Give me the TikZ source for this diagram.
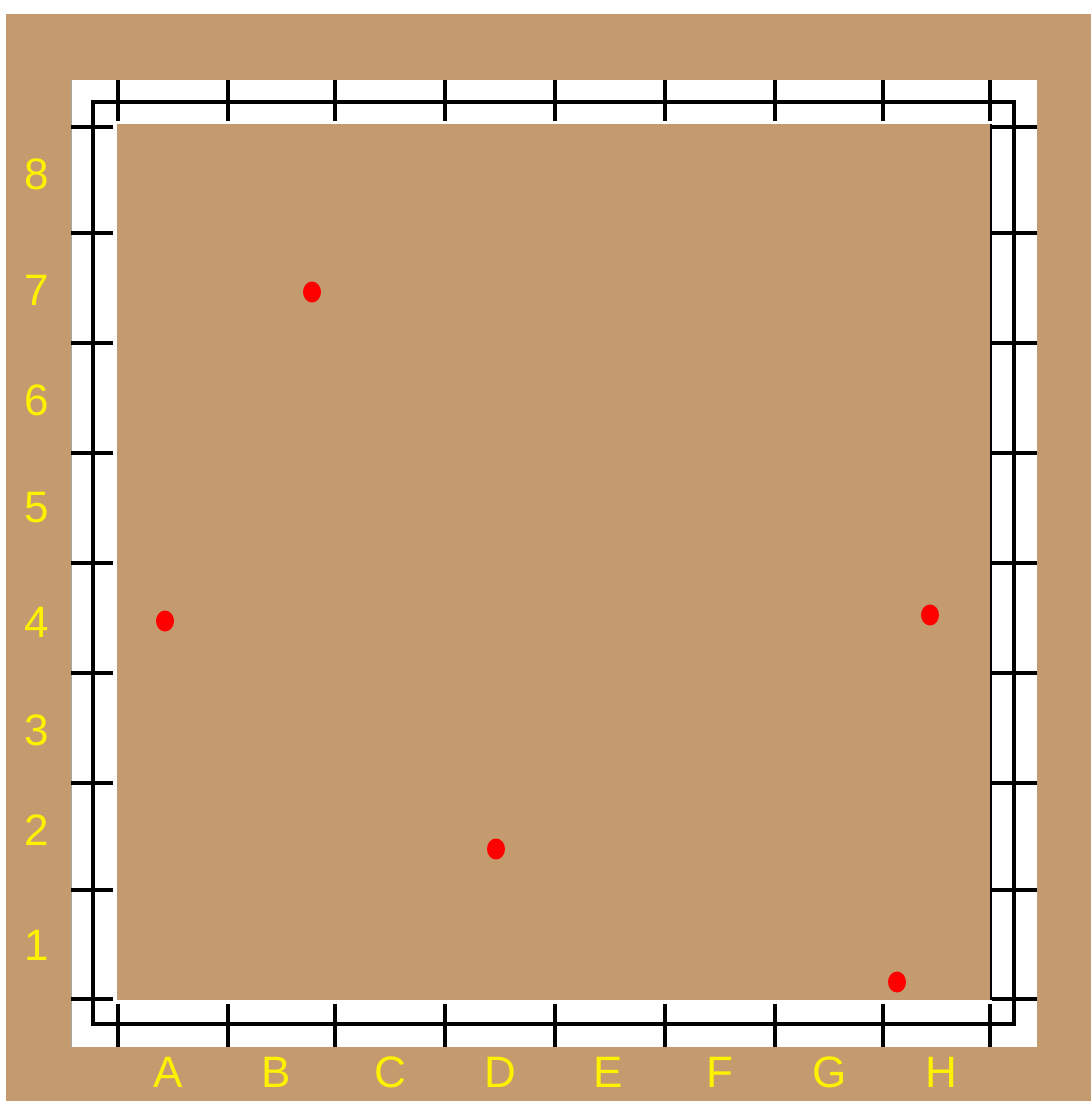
\documentclass[tikz,border=0pt]{standalone}
\usepackage{fontspec}
\setmainfont{Liberation Sans}
\usepackage{xcolor}
\usepackage{tikz}
\usetikzlibrary{positioning, shapes.geometric}

\definecolor{boardtan}{RGB}{196,155,110}

\tikzset{
  edgetick/.style={line width=4pt, black},
  lbl/.style={text=yellow, font=\fontsize{44}{44}\selectfont, inner sep=0pt},
  piece/.style={ellipse, fill=red, draw=none, minimum width=18pt, minimum height=21pt, inner sep=0pt}
}

\begin{document}
\begin{tikzpicture}[x=1pt, y=-1pt]
        \useasboundingbox (0,0) rectangle (1091,1101);
        % Page and board background
        \fill[white] (0,0) rectangle (1091,1101);
        \fill[boardtan] (6,14) rectangle (1091,1101);
        % White frame with tan playing area
        \fill[white] (71,80) rectangle (1037,1047);
        \fill[boardtan] (117,124) rectangle (990,1000);
        \draw[gray!70, line width=0.8pt] (71,80) -- (71,1047);
        \draw[line width=1.2pt] (991,124) -- (991,1000);
        % Border line round the field
        \draw[line width=4pt] (93,101.5) rectangle (1014,1024);
        % Ticks on the top and bottom strips
        \foreach \x in {118,228,335,445,555,665,775,883,990} {
          \draw[edgetick] (\x,80) -- (\x,121);
          \draw[edgetick] (\x,1004) -- (\x,1047);
        }
        % Ticks on the left and right strips
        \foreach \y in {127,233,343,453,563,673,783,890,999} {
          \draw[edgetick] (71,\y) -- (113,\y);
          \draw[edgetick] (992,\y) -- (1037,\y);
        }
        % Column labels
        \foreach \c/\x in {A/168,B/276,C/390,D/500,E/608,F/720,G/830,H/941}
          \node[lbl] (col\c) at (\x,1072) {\c};
        % Row labels
        \foreach \r/\y in {8/174,7/290,6/400,5/508,4/622,3/730,2/830,1/945}
          \node[lbl] (row\r) at (37,\y) {\r};
        % Red pieces
        \foreach \n/\x/\y in {1/312/292, 2/165/621, 3/930/615, 4/496/849, 5/897/982}
          \node[piece] (dot\n) at (\x,\y) {};
      \end{tikzpicture}
\end{document}
